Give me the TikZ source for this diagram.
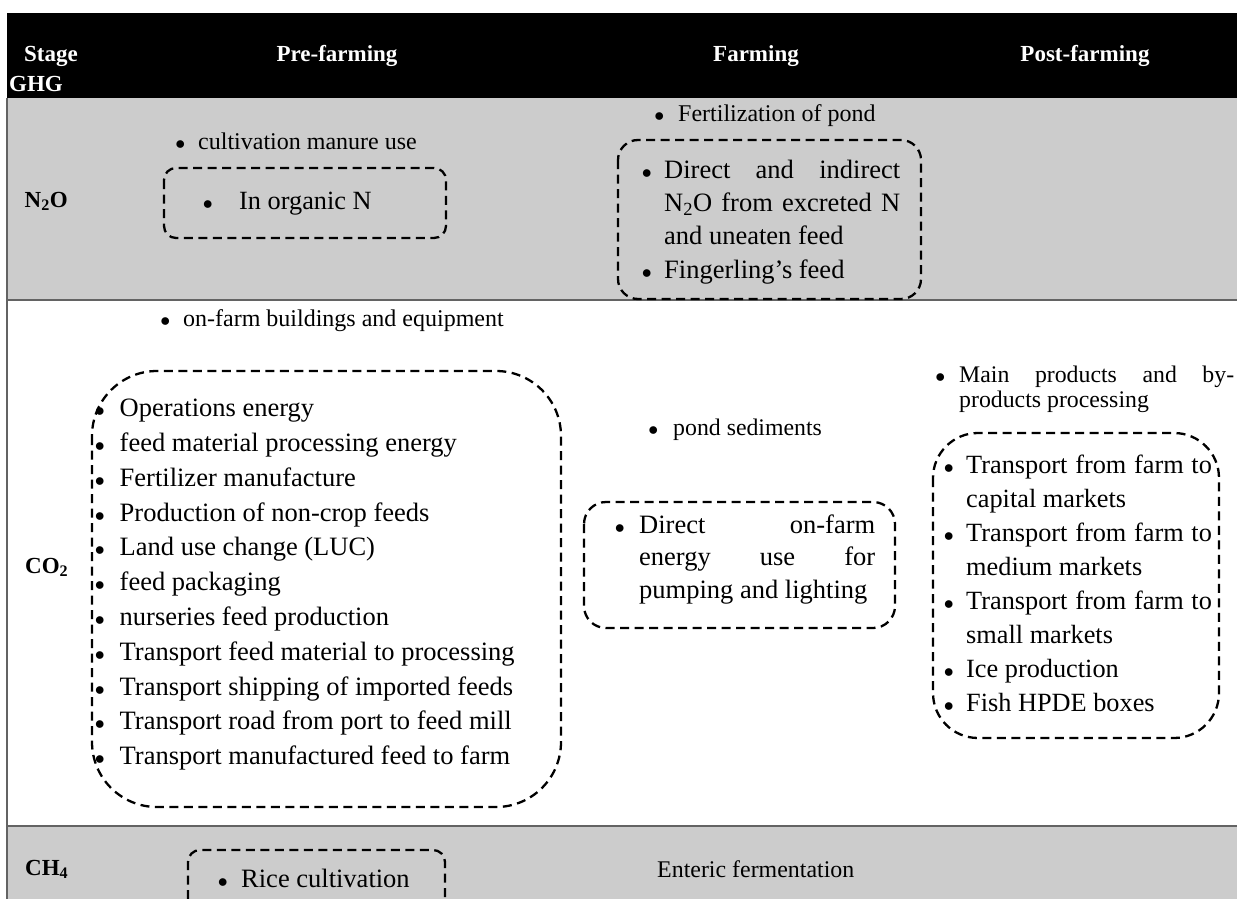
\documentclass[tikz,border=0pt]{standalone}
\usepackage{fontspec}
\setmainfont{Liberation Serif}
\definecolor{rowgray}{HTML}{CCCCCC}
\definecolor{rulegray}{HTML}{636363}
\newlength\bulletgap
\newcommand\listfont[3]{\fontsize{#1}{#2}\selectfont\setlength\bulletgap{#3}}
\newcommand\bitem{\hangindent=\bulletgap\hangafter=1\noindent\hbox to\bulletgap{\scalebox{0.8}{$\bullet$}\hfil}\strut}
\tikzset{
  dashbox/.style={draw, line width=2.3pt, dash pattern=on 9pt off 5.5pt, rounded corners=#1},
  itemlist/.style={anchor=north west, inner sep=0pt, text width=#1, align=justify},
  head/.style={font=\bfseries\fontsize{23}{27}\selectfont, text=white, inner sep=0pt, anchor=base},
  gas/.style={font=\bfseries\fontsize{23}{27}\selectfont, inner sep=0pt, anchor=base west},
}

\begin{document}
\begin{tikzpicture}[x=1pt,y=-1pt]
    \fill[white] (0,0) rectangle (1237,899);
    \useasboundingbox (0,0) rectangle (1237,899);
    % table rows
    \fill[black] (7,13) rectangle (1237,98);
    \fill[rowgray] (7,98) rectangle (1237,300);
    \fill[rowgray] (7,826) rectangle (1237,899);
    \draw[rulegray, line width=2.5pt] (7,98) -- (7,899);
    \draw[rulegray, line width=2.5pt] (7,300) -- (1237,300) (7,826) -- (1237,826);
    % header
    \node[head, anchor=base west] (stage) at (24,62) {Stage};
    \node[head, anchor=base west] (ghg) at (9,92) {GHG};
    \foreach \name/\x/\txt in {pre/337/Pre-farming, farm/756/Farming, post/1085/Post-farming}{
        \node[head] (h-\name) at (\x,62) {\txt};
    }
    \node[gas] (n2o) at (24.5,207) {N\textsubscript{2}O};
    \node[gas] (co2) at (25,573) {CO\textsubscript{2}};
    \node[gas] (ch4) at (25,875) {CH\textsubscript{4}};
    % N2O row
    \node[itemlist=300pt, font=\listfont{24}{29}{22.8pt}] (pre-n2o) at (175.2,128.7) {\bitem cultivation manure use\par};
    \draw[dashbox=12pt] (164,168) rectangle (446,238);
    \node[itemlist=230pt, font=\listfont{26.3}{32}{36.3pt}] (pre-n2o-in) at (202.7,186.6) {\bitem In organic N\par};
    \node[itemlist=300pt, font=\listfont{24}{29}{23.8pt}] (farm-n2o) at (654.2,100.7) {\bitem Fertilization of pond\par};
    \draw[dashbox=20pt] (618,140) rectangle (921,299);
    \node[itemlist=258.3pt, font=\listfont{26.5}{33.3}{22.3pt}] (farm-n2o-in) at (641.7,154.7)
        {\bitem Direct and indirect\linebreak N\textsubscript{2}O from excreted N\linebreak and uneaten feed
         \par\bitem Fingerling’s feed\par};
    % CO2 row
    \node[itemlist=400pt, font=\listfont{24}{29}{22.8pt}] (pre-co2) at (160.2,305.7) {\bitem on-farm buildings and equipment\par};
    \draw[dashbox=65pt] (92,371) rectangle (561,807);
    \node[itemlist=460pt, font=\listfont{26.5}{34.8}{24.8pt}] (pre-co2-in) at (94.7,392.1)
        {\bitem Operations energy
         \par\bitem feed material processing energy
         \par\bitem Fertilizer manufacture
         \par\bitem Production of non-crop feeds
         \par\bitem Land use change (LUC)
         \par\bitem feed packaging
         \par\bitem nurseries feed production
         \par\bitem Transport feed material to processing
         \par\bitem Transport shipping of imported feeds
         \par\bitem Transport road from port to feed mill
         \par\bitem Transport manufactured feed to farm\par};
    \node[itemlist=250pt, font=\listfont{23.8}{29}{24.8pt}] (farm-co2) at (648.2,414.7) {\bitem pond sediments\par};
    \draw[dashbox=22pt] (584,502) rectangle (895,628);
    \node[itemlist=260.3pt, font=\listfont{26.5}{32.5}{24.3pt}] (farm-co2-in) at (614.7,510.25)
        {\bitem Direct on-farm\linebreak energy use for\linebreak pumping and lighting\par};
    \node[itemlist=298.8pt, font=\listfont{23.8}{25}{23.8pt}] (post-co2) at (935.2,364.5)
        {\bitem Main products and by-\linebreak products processing\par};
    \draw[dashbox=45pt] (933,433) rectangle (1219,738);
    \node[itemlist=268pt, font=\listfont{26.3}{34.1}{22.3pt}] (post-co2-in) at (943.7,449.1)
        {\bitem Transport from farm to\linebreak capital markets
         \par\bitem Transport from farm to\linebreak medium markets
         \par\bitem Transport from farm to\linebreak small markets
         \par\bitem Ice production
         \par\bitem Fish HPDE boxes\par};
    % CH4 row
    \draw[dashbox=12pt] (188,899) |- (316,850) -| (445,899);
    \node[itemlist=230pt, font=\listfont{26.5}{32}{23.3pt}] (pre-ch4-in) at (217.7,864.6) {\bitem Rice cultivation\par};
    \node[inner sep=0pt, anchor=base west, font=\fontsize{23.9}{29}\selectfont] (farm-ch4) at (657,877) {Enteric fermentation};
\end{tikzpicture}
\end{document}
